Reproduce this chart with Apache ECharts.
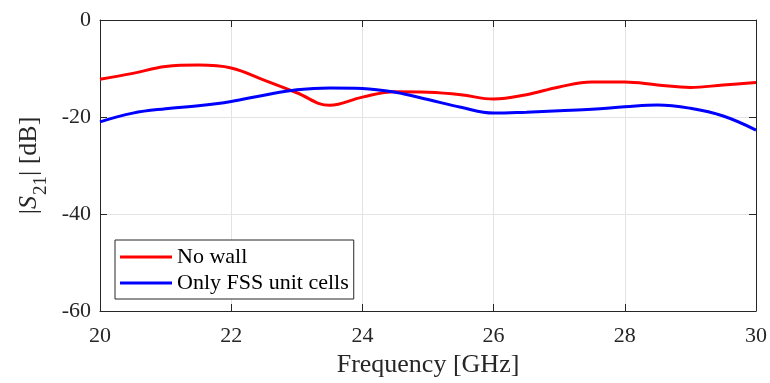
<!DOCTYPE html>
<html><head><meta charset="utf-8">
<script src="https://cdn.jsdelivr.net/npm/echarts@6/dist/echarts.min.js"></script>
<style>html,body{margin:0;padding:0;background:#fff}#c{width:770px;height:383px}</style>
</head><body><div id="c"></div>
<script>
const freqs   = [20, 20.5, 21, 21.5, 22, 22.5, 23, 23.5, 24, 24.5, 25, 25.5, 26, 26.5, 27, 27.5, 28, 28.5, 29, 29.5, 30];
const noWall  = [-12.2, -11.0, -9.6, -9.3, -9.9, -12.4, -15.0, -17.6, -15.9, -14.8, -14.9, -15.4, -16.3, -15.4, -13.8, -12.8, -12.8, -13.4, -13.9, -13.4, -12.9];
const fssOnly = [-21.0, -19.2, -18.3, -17.7, -16.8, -15.5, -14.4, -14.0, -14.1, -14.9, -16.4, -18.0, -19.2, -19.0, -18.7, -18.4, -17.9, -17.5, -18.2, -19.8, -22.7];
const xTicks = [20, 22, 24, 26, 28, 30];
const yTicks = [-60, -40, -20, 0];
const seriesNames = ['No wall', 'Only FSS unit cells'];

const font = 'Liberation Serif';
const txt = '#262626';
const chart = echarts.init(document.getElementById('c'), null, {renderer: 'canvas'});
const axisCommon = {
  axisLine: {show: true, onZero: false, lineStyle: {color: txt, width: 1}},
  axisTick: {show: true, inside: true, length: 7, lineStyle: {color: txt}},
};
chart.setOption({
  animation: false,
  backgroundColor: '#fff',
  grid: {left: 100, right: 11, top: 20, bottom: 72},
  legend: {
    orient: 'vertical', left: 115, top: 240,
    backgroundColor: '#fff', borderColor: txt, borderWidth: 1, borderRadius: 0,
    padding: [5, 5, 4, 5], itemGap: 2, itemWidth: 52, itemHeight: 3, icon: 'rect',
    textStyle: {fontFamily: font, fontSize: 22, color: '#000', lineHeight: 24},
    data: seriesNames
  },
  xAxis: [{
    type: 'value', min: 20, max: 30, interval: 2,
    name: 'Frequency [GHz]', nameLocation: 'middle', nameGap: 40,
    nameTextStyle: {fontFamily: font, fontSize: 26, color: txt},
    ...axisCommon,
    axisLabel: {fontFamily: font, fontSize: 22, color: txt, margin: 14},
    splitLine: {show: true, lineStyle: {color: '#e3e3e3', width: 1}}
  }, {
    type: 'value', min: 20, max: 30, interval: 2, position: 'top',
    ...axisCommon, axisLabel: {show: false}, splitLine: {show: false}
  }],
  yAxis: [{
    type: 'value', min: -60, max: 0, interval: 20,
    name: '{m||}{i|S}{sub|21}{m|| [dB]}', nameLocation: 'middle', nameGap: 54, nameRotate: 90,
    nameTextStyle: {fontFamily: font, fontSize: 26, color: txt,
      rich: {m: {fontFamily: font, fontSize: 26, color: txt, lineHeight: 26, verticalAlign: 'top'},
             i: {fontFamily: font, fontSize: 26, fontStyle: 'italic', color: txt, lineHeight: 26, verticalAlign: 'top'},
             sub: {fontFamily: font, fontSize: 19, color: txt, lineHeight: 19, verticalAlign: 'top', padding: [16, 0, 0, 1]}}},
    ...axisCommon,
    axisLabel: {fontFamily: font, fontSize: 22, color: txt, margin: 9},
    splitLine: {show: true, lineStyle: {color: '#e3e3e3', width: 1}}
  }, {
    type: 'value', min: -60, max: 0, interval: 20, position: 'right',
    ...axisCommon, axisLabel: {show: false}, splitLine: {show: false}
  }],
  series: [{
    name: seriesNames[0], type: 'line', smooth: 0.4, symbol: 'none',
    lineStyle: {color: '#ff0000', width: 3}, itemStyle: {color: '#ff0000'},
    data: freqs.map((f, i) => [f, noWall[i]])
  }, {
    name: seriesNames[1], type: 'line', smooth: 0.4, symbol: 'none',
    lineStyle: {color: '#0000ff', width: 3}, itemStyle: {color: '#0000ff'},
    data: freqs.map((f, i) => [f, fssOnly[i]])
  }]
});
</script></body></html>
